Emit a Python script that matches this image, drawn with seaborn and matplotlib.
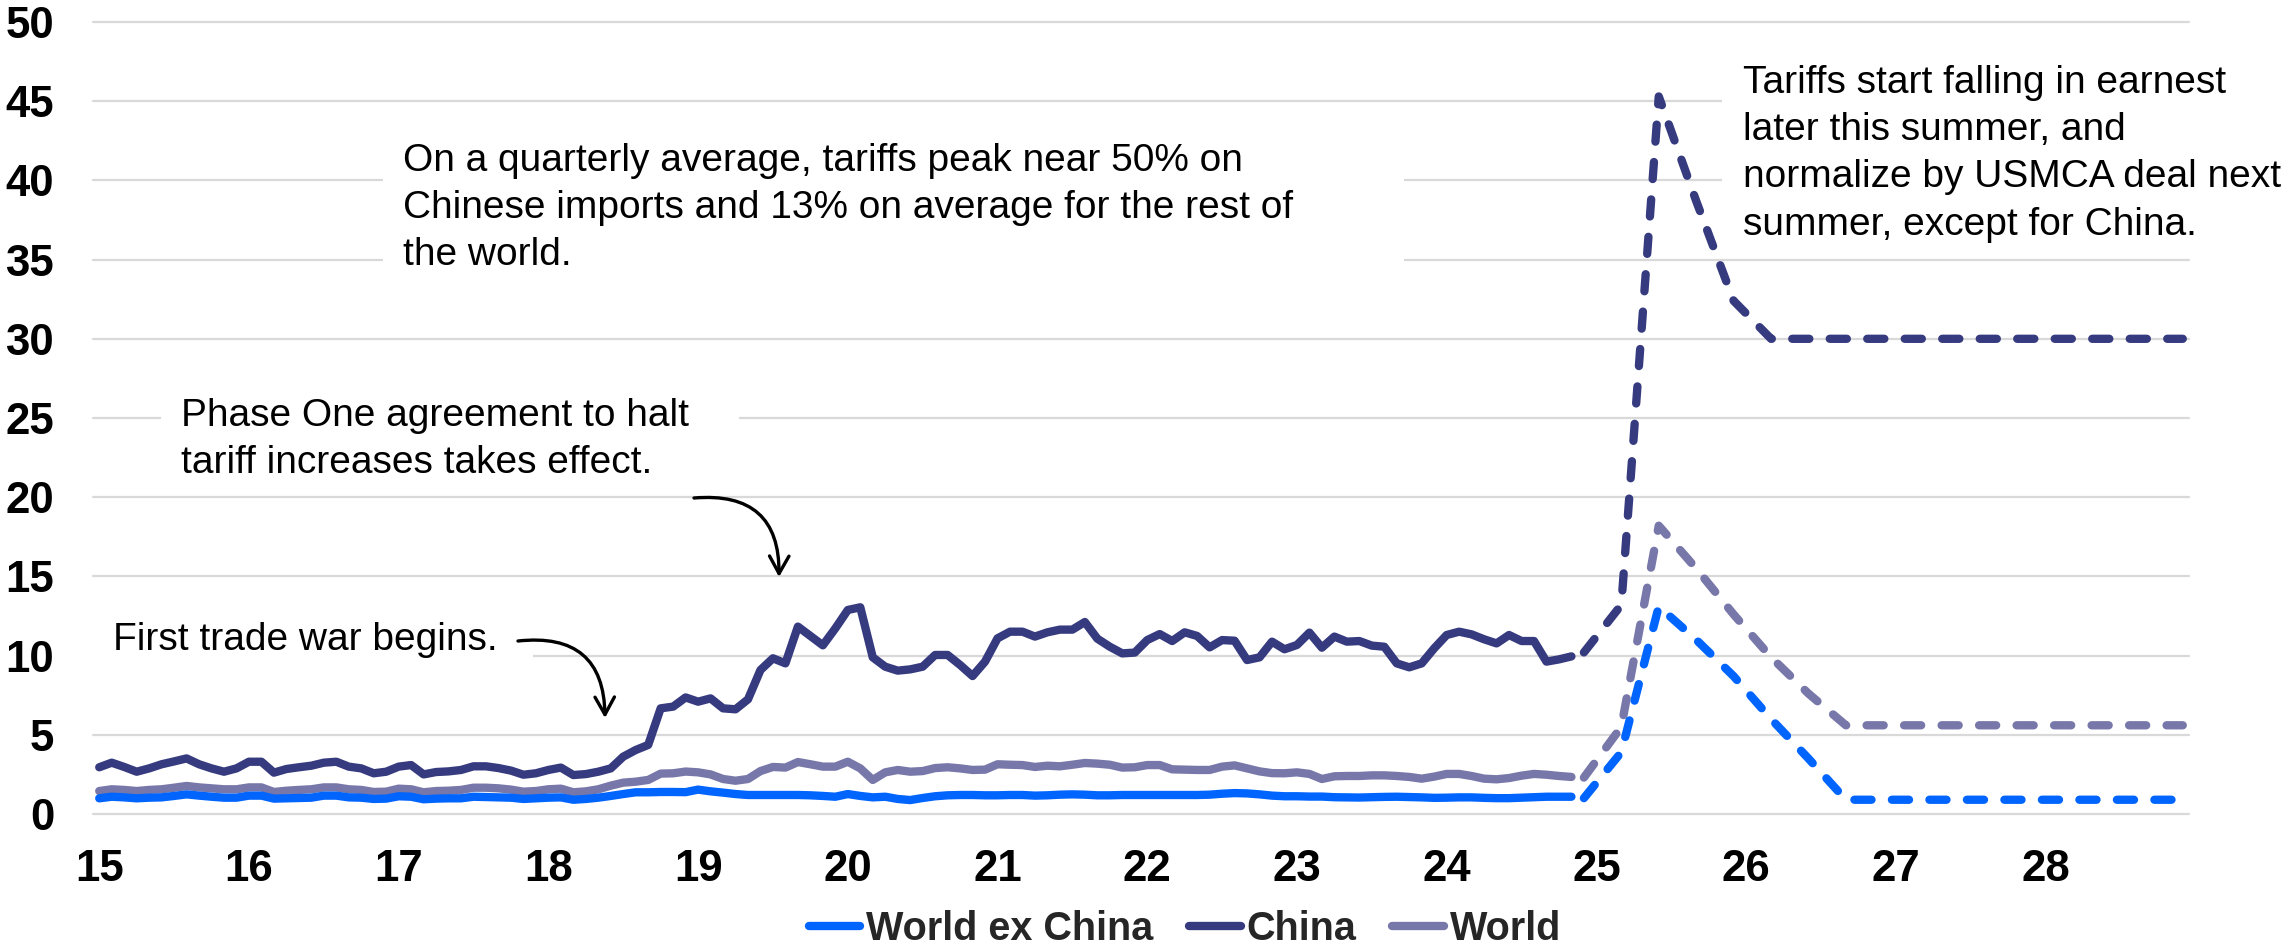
import numpy as np
import pandas as pd
import matplotlib
matplotlib.use("Agg")
import matplotlib.pyplot as plt
import seaborn as sns
from matplotlib.patches import Rectangle

# ---------------------------------------------------------------------------
# Effective US tariff rate (%), monthly actuals Jan 2015 - Nov 2024
# ---------------------------------------------------------------------------
china_actual = [
    2.95, 3.24, 2.97, 2.67, 2.88, 3.14, 3.32, 3.51, 3.14, 2.88, 2.67, 2.88,
    3.30, 3.30, 2.61, 2.84, 2.95, 3.05, 3.24, 3.30, 2.99, 2.88, 2.57, 2.67,
    2.99, 3.09, 2.50, 2.65, 2.69, 2.78, 3.01, 3.01, 2.90, 2.74, 2.48, 2.57,
    2.78, 2.93, 2.46, 2.52, 2.67, 2.88, 3.62, 4.04, 4.36, 6.67, 6.78, 7.36,
    7.09, 7.30, 6.67, 6.61, 7.24, 9.09, 9.83, 9.51, 11.83, 11.24, 10.65, 11.72,
    12.88, 13.05, 9.89, 9.30, 9.05, 9.13, 9.30, 10.04, 10.04, 9.41, 8.71, 9.62,
    11.09, 11.51, 11.51, 11.20, 11.47, 11.64, 11.64, 12.12, 11.07, 10.56, 10.14, 10.19,
    10.98, 11.36, 10.92, 11.47, 11.24, 10.52, 10.98, 10.94, 9.72, 9.89, 10.88, 10.40,
    10.67, 11.45, 10.50, 11.20, 10.88, 10.92, 10.63, 10.56, 9.51, 9.26, 9.51, 10.46,
    11.30, 11.51, 11.34, 11.03, 10.77, 11.30, 10.92, 10.92, 9.62, 9.76, 9.95,
]
world_actual = [
    1.45, 1.56, 1.52, 1.45, 1.52, 1.56, 1.66, 1.77, 1.68, 1.62, 1.56, 1.56,
    1.68, 1.68, 1.39, 1.47, 1.52, 1.56, 1.68, 1.68, 1.56, 1.52, 1.39, 1.41,
    1.60, 1.56, 1.37, 1.45, 1.47, 1.52, 1.66, 1.66, 1.62, 1.54, 1.41, 1.45,
    1.56, 1.60, 1.37, 1.43, 1.56, 1.79, 1.98, 2.04, 2.15, 2.55, 2.57, 2.68,
    2.63, 2.50, 2.21, 2.10, 2.21, 2.71, 2.97, 2.93, 3.28, 3.14, 2.99, 2.99,
    3.30, 2.88, 2.15, 2.63, 2.78, 2.67, 2.71, 2.90, 2.95, 2.88, 2.78, 2.80,
    3.14, 3.11, 3.09, 2.97, 3.05, 3.01, 3.11, 3.22, 3.18, 3.11, 2.93, 2.95,
    3.09, 3.09, 2.82, 2.80, 2.78, 2.78, 2.99, 3.07, 2.88, 2.69, 2.58, 2.57,
    2.63, 2.53, 2.21, 2.38, 2.40, 2.40, 2.44, 2.44, 2.40, 2.34, 2.23, 2.36,
    2.53, 2.53, 2.40, 2.23, 2.19, 2.27, 2.42, 2.53, 2.48, 2.40, 2.34,
]
world_ex_china_actual = [
    0.99, 1.09, 1.05, 0.99, 1.03, 1.05, 1.14, 1.24, 1.16, 1.09, 1.03, 1.03,
    1.16, 1.16, 0.97, 0.99, 1.01, 1.03, 1.16, 1.16, 1.05, 1.03, 0.95, 0.97,
    1.12, 1.09, 0.93, 0.97, 0.99, 0.99, 1.09, 1.07, 1.05, 1.03, 0.95, 0.99,
    1.03, 1.05, 0.90, 0.95, 1.03, 1.14, 1.26, 1.37, 1.37, 1.39, 1.39, 1.38,
    1.54, 1.43, 1.35, 1.26, 1.20, 1.20, 1.20, 1.20, 1.20, 1.18, 1.14, 1.09,
    1.26, 1.14, 1.05, 1.09, 0.95, 0.88, 1.01, 1.12, 1.18, 1.20, 1.20, 1.18,
    1.18, 1.20, 1.20, 1.16, 1.18, 1.22, 1.24, 1.22, 1.18, 1.18, 1.20, 1.20,
    1.20, 1.20, 1.20, 1.20, 1.20, 1.22, 1.28, 1.32, 1.30, 1.24, 1.16, 1.12,
    1.12, 1.10, 1.10, 1.06, 1.05, 1.04, 1.06, 1.08, 1.09, 1.07, 1.05, 1.02,
    1.03, 1.05, 1.05, 1.02, 1.00, 1.00, 1.03, 1.06, 1.09, 1.09, 1.09,
]

# Quarterly projection, Dec 2024 - Dec 2028
forecast_months = list(range(119, 168, 3))
china_forecast = [10.2, 13.2, 45.3, 38.7, 32.4, 30.0, 30.0, 30.0, 30.0,
                  30.0, 30.0, 30.0, 30.0, 30.0, 30.0, 30.0, 30.0]
world_forecast = [2.3, 5.5, 18.2, 15.5, 12.6, 9.9, 7.6, 5.6, 5.6,
                  5.6, 5.6, 5.6, 5.6, 5.6, 5.6, 5.6, 5.6]
world_ex_china_forecast = [1.0, 3.9, 13.1, 11.0, 8.7, 6.0, 3.5, 0.9, 0.9,
                           0.9, 0.9, 0.9, 0.9, 0.9, 0.9, 0.9, 0.9]

year_labels = [str(y) for y in range(15, 29)]
y_ticks = list(range(0, 51, 5))

COLORS = {
    "World ex China": "#0064FF",
    "China": "#363A7E",
    "World": "#7877A9",
}

W, H = 2296, 947


def month_pos(idx):
    """Centre of each monthly category on a year axis (15 = Jan 2015)."""
    return 15 + (np.asarray(idx, dtype=float) + 0.5) / 12


def fig_xy(x, y):
    """Pixel position (from top-left) to figure fraction."""
    return x / W, 1 - y / H


actual = pd.DataFrame({
    "x": month_pos(range(len(china_actual))),
    "World ex China": world_ex_china_actual,
    "China": china_actual,
    "World": world_actual,
})
forecast = pd.DataFrame({
    "x": month_pos(forecast_months),
    "World ex China": world_ex_china_forecast,
    "China": china_forecast,
    "World": world_forecast,
})

sns.set_theme(style="white")
plt.rcParams["font.family"] = ["Liberation Sans", "DejaVu Sans"]

fig = plt.figure(figsize=(W / 100, H / 100), dpi=100)
ax = fig.add_axes([93 / W, 1 - 814 / H, (2189 - 93) / W, (814 - 22) / H])

LW = 6
DASH = (0, (2.05, 2.45))
handles = {}
for name in ["World", "World ex China", "China"]:
    sns.lineplot(data=actual, x="x", y=name, ax=ax, color=COLORS[name], lw=LW,
                 solid_capstyle="round", solid_joinstyle="round", zorder=3)
    handles[name] = ax.lines[-1]
    sns.lineplot(data=forecast, x="x", y=name, ax=ax, color=COLORS[name], lw=LW,
                 linestyle=DASH, dash_capstyle="round", dash_joinstyle="round",
                 zorder=3)

ax.set_xlim(15, 29)
ax.set_ylim(0, 50)
ax.set_xticks(month_pos([12 * i for i in range(len(year_labels))]))
ax.set_xticklabels(year_labels)
ax.set_yticks(y_ticks)
ax.set_yticklabels([str(v) for v in y_ticks])
ax.set_xlabel("")
ax.set_ylabel("")
ax.tick_params(axis="x", length=0, labelsize=31.5, pad=25)
ax.tick_params(axis="y", length=0, labelsize=31.5, pad=28)
for lbl in ax.get_xticklabels() + ax.get_yticklabels():
    lbl.set_fontweight("bold")
    lbl.set_color("black")
ax.grid(axis="y", color="#D9D9D9", lw=1.6)
ax.grid(axis="x", visible=False)
ax.set_axisbelow(True)
for gl in ax.get_ygridlines():
    gl.set_clip_on(False)
sns.despine(ax=ax, left=True, bottom=True)

# White text panels that interrupt the gridlines
panels = [
    (383, 125, 1404, 290),
    (161, 385, 739, 480),
    (80, 605, 533, 672),
    (1722, 55, 2296, 250),
]
for x0, y0, x1, y1 in panels:
    fx0, fy1 = fig_xy(x0, y1)
    fx1, fy0 = fig_xy(x1, y0)
    ax.add_patch(Rectangle((fx0, fy1), fx1 - fx0, fy0 - fy1, transform=fig.transFigure,
                           facecolor="white", edgecolor="none", zorder=1, clip_on=False))

notes = [
    (403, 143, "On a quarterly average, tariffs peak near 50% on\n"
               "Chinese imports and 13% on average for the rest of\nthe world."),
    (181, 398, "Phase One agreement to halt\ntariff increases takes effect."),
    (113, 622, "First trade war begins."),
    (1743, 65, "Tariffs start falling in earnest\nlater this summer, and\n"
               "normalize by USMCA deal next\nsummer, except for China."),
]
for x, y, txt in notes:
    fx, fy = fig_xy(x, y)
    ax.text(fx, fy, txt, transform=fig.transFigure, ha="left", va="top",
            fontsize=28, color="black", linespacing=1.4, zorder=4)

arrows = [((518, 641), (605, 718)), ((694, 498), (779, 577))]
for (sx, sy), (ex, ey) in arrows:
    ax.annotate("", xy=fig_xy(ex, ey), xytext=fig_xy(sx, sy),
                xycoords="figure fraction", textcoords="figure fraction",
                arrowprops=dict(arrowstyle="->,head_length=0.45,head_width=0.25",
                                connectionstyle="arc3,rad=-0.55", color="black",
                                lw=2.4, shrinkA=0, shrinkB=0, mutation_scale=28),
                zorder=4)

order = ["World ex China", "China", "World"]
leg = fig.legend([handles[n] for n in order], order, loc="center",
                 bbox_to_anchor=fig_xy(1185, 929), ncol=3, frameon=False,
                 prop={"weight": "bold", "size": 28.5}, handlelength=1.3,
                 handletextpad=0.15, columnspacing=0.9, borderpad=0,
                 borderaxespad=0)
for line in leg.get_lines():
    line.set_solid_capstyle("round")
    line.set_linewidth(LW)

fig.savefig("out.png", dpi=100)
